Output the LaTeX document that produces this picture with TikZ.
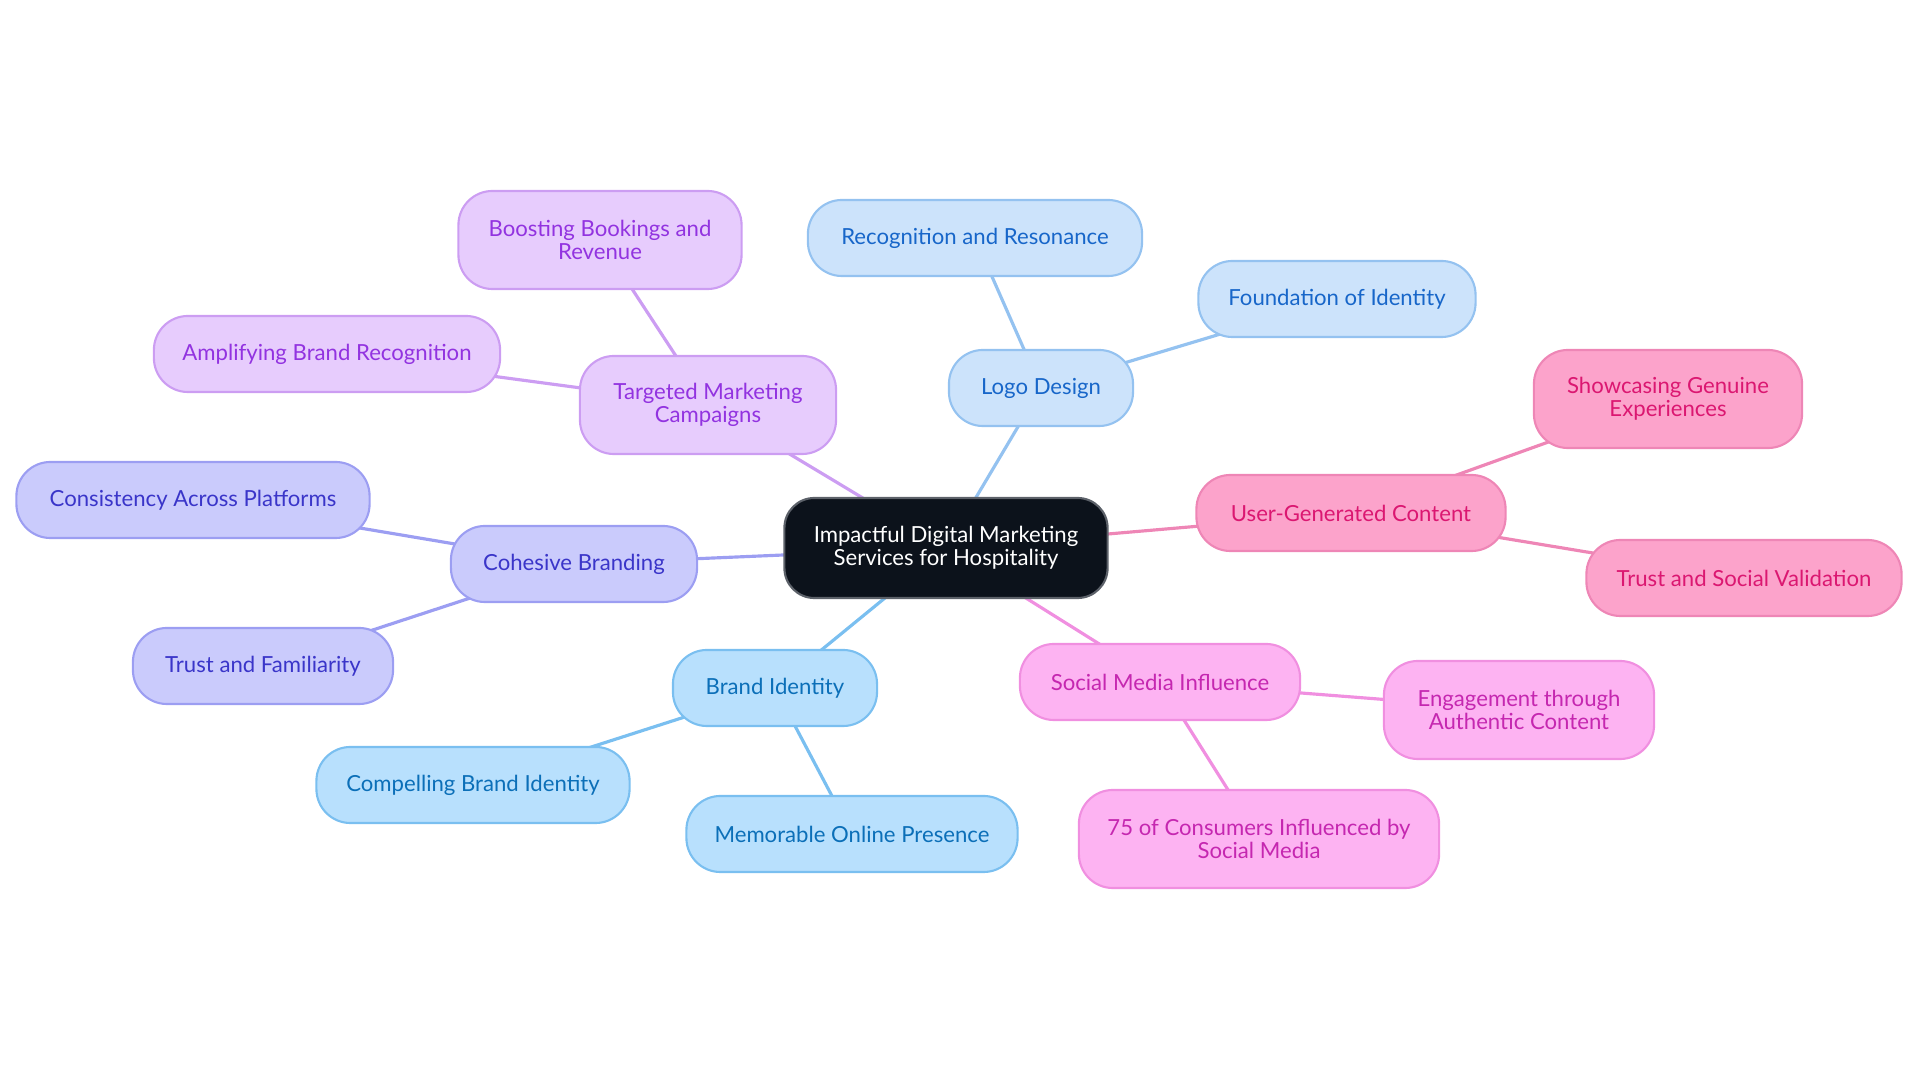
\documentclass[tikz,border=0pt]{standalone}
\usepackage{fontspec}
\setmainfont{Lato}
\usepackage{xcolor}
\usetikzlibrary{positioning,backgrounds}
\definecolor{rootfill}{HTML}{0C121B}
\definecolor{rootedge}{HTML}{5C6169}
\definecolor{logofill}{HTML}{CCE3FB}
\definecolor{logoedge}{HTML}{94C2F0}
\definecolor{logotext}{HTML}{1766C9}
\definecolor{identfill}{HTML}{B8E0FD}
\definecolor{identedge}{HTML}{7ABFF0}
\definecolor{identtext}{HTML}{0B6FB8}
\definecolor{campfill}{HTML}{E7CCFD}
\definecolor{campedge}{HTML}{CC9DF2}
\definecolor{camptext}{HTML}{9233E0}
\definecolor{brandfill}{HTML}{CACBFC}
\definecolor{brandedge}{HTML}{9C9EF2}
\definecolor{brandtext}{HTML}{3A35C9}
\definecolor{socialfill}{HTML}{FDB3F2}
\definecolor{socialedge}{HTML}{F08FE0}
\definecolor{socialtext}{HTML}{C527B0}
\definecolor{ugcfill}{HTML}{FCA3CB}
\definecolor{ugcedge}{HTML}{EE86B6}
\definecolor{ugctext}{HTML}{DB1771}

\begin{document}
\begin{tikzpicture}[
    x=0.01cm, y=-0.01cm,
    box/.style={rectangle, rounded corners=0.34cm, draw, line width=0.6pt, align=center, inner sep=0pt, minimum height=0.76cm, font=\fontsize{6.3}{6.4}\selectfont},
    tall/.style={minimum height=0.98cm},
    rootbox/.style={box, fill=rootfill, draw=rootedge, text=white, rounded corners=0.3cm, minimum height=1cm},
    logobox/.style={box, fill=logofill, draw=logoedge, text=logotext},
    identbox/.style={box, fill=identfill, draw=identedge, text=identtext},
    campbox/.style={box, fill=campfill, draw=campedge, text=camptext},
    brandbox/.style={box, fill=brandfill, draw=brandedge, text=brandtext},
    socialbox/.style={box, fill=socialfill, draw=socialedge, text=socialtext},
    ugcbox/.style={box, fill=ugcfill, draw=ugcedge, text=ugctext},
    link/.style={line width=0.9pt}
  ]
    \useasboundingbox (0,0) rectangle (1920,1083);
    % centre
    \node[rootbox, minimum width=3.23cm] (root) at (946,548) {Impactful Digital Marketing\\Services for Hospitality};
    % logo design
    \node[logobox, minimum width=1.84cm] (logo) at (1041,388) {Logo Design};
    \node[logobox, minimum width=3.34cm] (recog) at (975,238) {Recognition and Resonance};
    \node[logobox, minimum width=2.77cm] (found) at (1337,299) {Foundation of Identity};
    % campaigns
    \node[campbox, tall, minimum width=2.56cm] (camp) at (708,405) {Targeted Marketing\\Campaigns};
    \node[campbox, tall, minimum width=2.83cm] (boost) at (600,240) {Boosting Bookings and\\Revenue};
    \node[campbox, minimum width=3.46cm] (ampl) at (327,354) {Amplifying Brand Recognition};
    % branding
    \node[brandbox, minimum width=2.46cm] (cohes) at (574,564) {Cohesive Branding};
    \node[brandbox, minimum width=3.53cm] (consis) at (193,500) {Consistency Across Platforms};
    \node[brandbox, minimum width=2.60cm] (trustf) at (263,666) {Trust and Familiarity};
    % brand identity
    \node[identbox, minimum width=2.04cm] (ident) at (775,688) {Brand Identity};
    \node[identbox, minimum width=3.13cm] (compel) at (473,785) {Compelling Brand Identity};
    \node[identbox, minimum width=3.31cm] (memor) at (852,834) {Memorable Online Presence};
    % social media
    \node[socialbox, minimum width=2.80cm] (social) at (1160,682) {Social Media Influence};
    \node[socialbox, tall, minimum width=2.70cm] (engage) at (1519,710) {Engagement through\\Authentic Content};
    \node[socialbox, tall, minimum width=3.60cm] (consum) at (1259,839) {75 of Consumers Influenced by\\Social Media};
    % user content
    \node[ugcbox, minimum width=3.09cm] (ugc) at (1351,513) {User-Generated Content};
    \node[ugcbox, tall, minimum width=2.68cm] (showc) at (1668,399) {Showcasing Genuine\\Experiences};
    \node[ugcbox, minimum width=3.15cm] (trusts) at (1744,578) {Trust and Social Validation};

    \begin{scope}[on background layer]
      \draw[link, draw=logoedge] (root.center) -- (logo.center);
      \draw[link, draw=logoedge] (logo.center) -- (recog.center);
      \draw[link, draw=logoedge] (logo.center) -- (found.center);
      \draw[link, draw=campedge] (root.center) -- (camp.center);
      \draw[link, draw=campedge] (camp.center) -- (boost.center);
      \draw[link, draw=campedge] (camp.center) -- (ampl.center);
      \draw[link, draw=brandedge] (root.center) -- (cohes.center);
      \draw[link, draw=brandedge] (cohes.center) -- (consis.center);
      \draw[link, draw=brandedge] (cohes.center) -- (trustf.center);
      \draw[link, draw=identedge] (root.center) -- (ident.center);
      \draw[link, draw=identedge] (ident.center) -- (compel.center);
      \draw[link, draw=identedge] (ident.center) -- (memor.center);
      \draw[link, draw=socialedge] (root.center) -- (social.center);
      \draw[link, draw=socialedge] (social.center) -- (engage.center);
      \draw[link, draw=socialedge] (social.center) -- (consum.center);
      \draw[link, draw=ugcedge] (root.center) -- (ugc.center);
      \draw[link, draw=ugcedge] (ugc.center) -- (showc.center);
      \draw[link, draw=ugcedge] (ugc.center) -- (trusts.center);
    \end{scope}
  \end{tikzpicture}
\end{document}
